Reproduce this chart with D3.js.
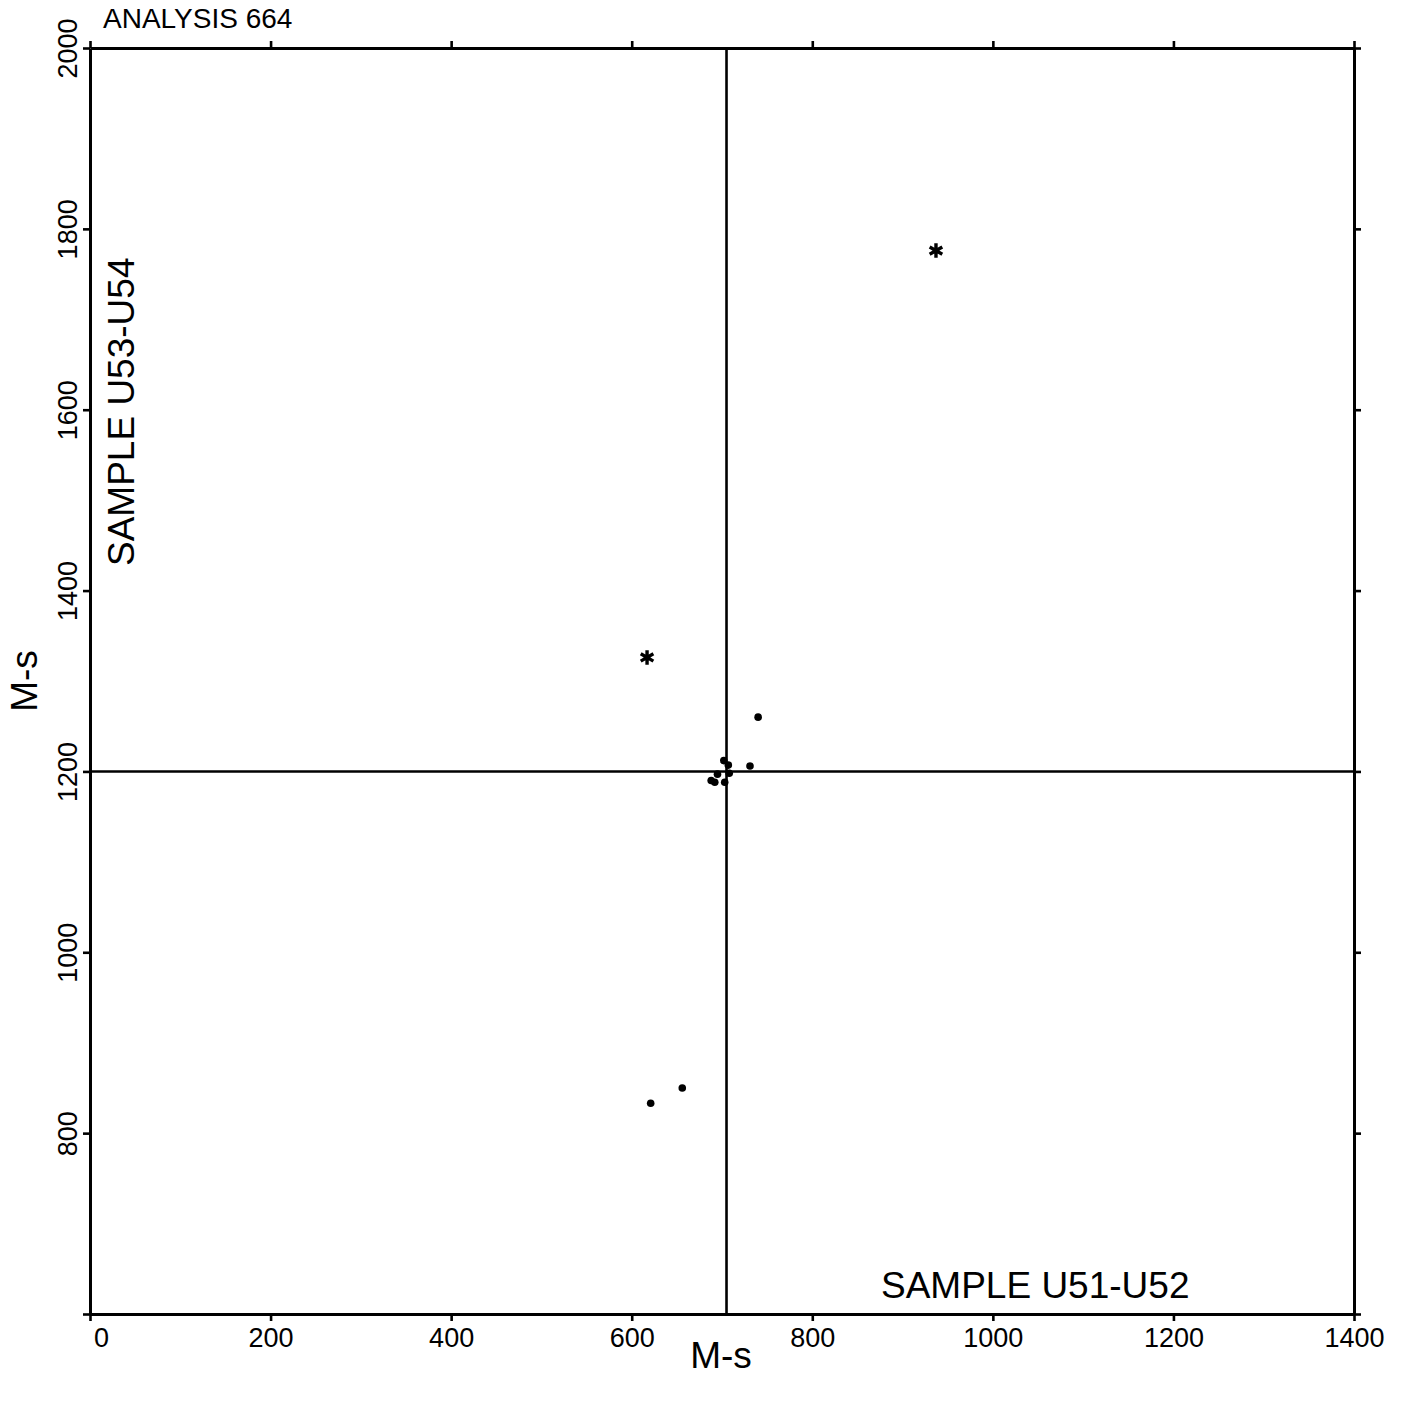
<!DOCTYPE html>
<html>
<head>
<meta charset="utf-8">
<script src="https://cdn.jsdelivr.net/npm/d3@7"></script>
<style>
  html, body { margin: 0; padding: 0; background: #fff; }
  text { font-family: "Liberation Sans", Arial, sans-serif; fill: #000; }
</style>
</head>
<body>
<svg id="chart" width="1403" height="1401"></svg>
<script>
// ---- data ----
const title = "ANALYSIS 664";
const xLabel = "M-s";
const yLabel = "M-s";
const quadLabelX = "SAMPLE U51-U52";
const quadLabelY = "SAMPLE U53-U54";
const xDomain = [0, 1400];
const yDomain = [600, 2000];
const xTicks = [0, 200, 400, 600, 800, 1000, 1200, 1400];
const yTicks = [600, 800, 1000, 1200, 1400, 1600, 1800, 2000];
const refX = 705;
const refY = 1200;
// dot points
const dotX = [740, 702, 707, 731, 708, 695, 688, 692, 703, 621, 656];
const dotY = [1260, 1212, 1207, 1206, 1198, 1197, 1190, 1188, 1188, 833, 850];
// asterisk points
const starX = [617, 937];
const starY = [1326, 1776];

// ---- layout ----
const svg = d3.select("#chart");
const L = 90, R = 1354, T = 48, B = 1314;
const x = d3.scaleLinear().domain(xDomain).range([L, R]);
const y = d3.scaleLinear().domain(yDomain).range([B, T]);
const FS = 27;

function styleAxis(g) {
  g.selectAll("path.domain").attr("stroke", "#000").attr("stroke-width", 3);
  g.selectAll(".tick line").attr("stroke", "#000").attr("stroke-width", 2.6);
  g.selectAll("text").style("font-size", FS + "px").attr("fill", "#000");
}

// bottom axis
const gx = svg.append("g").attr("transform", `translate(0,${B})`)
  .call(d3.axisBottom(x).tickValues(xTicks).tickSize(7).tickSizeOuter(0).tickFormat(d3.format("d")));
styleAxis(gx);
gx.selectAll("text").attr("y", 33).attr("dy", 0)
  .attr("dx", d => d === 0 ? 11 : 0);

// top axis
const gt = svg.append("g").attr("transform", `translate(0,${T})`)
  .call(d3.axisTop(x).tickValues(xTicks).tickSize(7).tickSizeOuter(0).tickFormat(""));
styleAxis(gt);

// left axis
const gy = svg.append("g").attr("transform", `translate(${L},0)`)
  .call(d3.axisLeft(y).tickValues(yTicks).tickSize(7).tickSizeOuter(0)
    .tickFormat(d => d === 600 ? "" : d3.format("d")(d)));
styleAxis(gy);
gy.selectAll("text").attr("x", 0).attr("y", -13).attr("dy", 0)
  .attr("text-anchor", "middle").attr("transform", "rotate(-90)");

// right axis
const gr = svg.append("g").attr("transform", `translate(${R},0)`)
  .call(d3.axisRight(y).tickValues(yTicks).tickSize(7).tickSizeOuter(0).tickFormat(""));
styleAxis(gr);

// reference lines
svg.append("line")
  .attr("x1", x(refX)).attr("x2", x(refX)).attr("y1", y(yDomain[0])).attr("y2", y(yDomain[1]))
  .attr("stroke", "#000").attr("stroke-width", 2.6);
svg.append("line")
  .attr("x1", x(xDomain[0])).attr("x2", x(xDomain[1])).attr("y1", y(refY)).attr("y2", y(refY))
  .attr("stroke", "#000").attr("stroke-width", 2.6);

// dots
svg.append("g").selectAll("circle")
  .data(dotX.map((v, i) => ({x: v, y: dotY[i]})))
  .join("circle")
  .attr("cx", d => x(d.x)).attr("cy", d => y(d.y)).attr("r", 3.8).attr("fill", "#000");

// asterisks
const star = d3.symbol().type(d3.symbolAsterisk).size(150);
svg.append("g").selectAll("path")
  .data(starX.map((v, i) => ({x: v, y: starY[i]})))
  .join("path")
  .attr("transform", d => `translate(${x(d.x)},${y(d.y)})`)
  .attr("d", star).attr("fill", "none").attr("stroke", "#000").attr("stroke-width", 3.4);

// texts
svg.append("text").attr("x", 103).attr("y", 28).style("font-size", "28px").text(title);
svg.append("text").attr("x", (L + R) / 2 - 1).attr("y", 1368).attr("text-anchor", "middle")
  .style("font-size", "37px").text(xLabel);
svg.append("text").attr("transform", `translate(37,681) rotate(-90)`).attr("text-anchor", "middle")
  .style("font-size", "37px").text(yLabel);
svg.append("text").attr("x", 881).attr("y", 1298).style("font-size", "37px").text(quadLabelX);
svg.append("text").attr("transform", `translate(134,566) rotate(-90)`)
  .style("font-size", "37px").text(quadLabelY);
</script>
</body>
</html>
